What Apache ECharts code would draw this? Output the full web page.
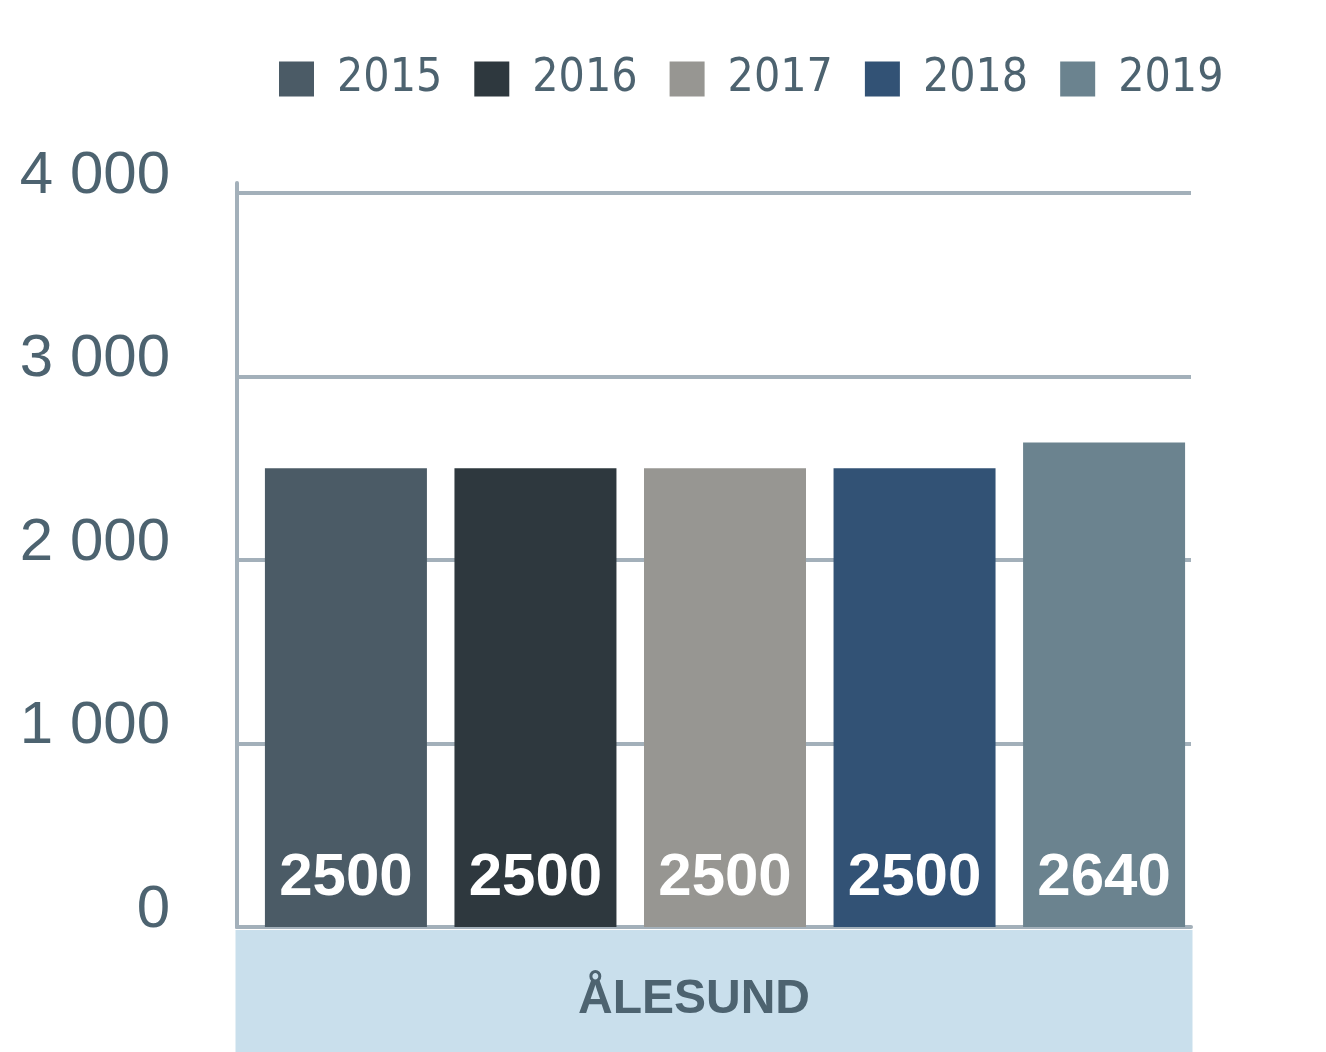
<!DOCTYPE html>
<html>
<head>
<meta charset="utf-8">
<script src="https://cdn.jsdelivr.net/npm/echarts@6/dist/echarts.min.js"></script>
<style>
html,body{margin:0;padding:0;background:#fff;}
#chart{width:1326px;height:1052px;}
</style>
</head>
<body>
<div id="chart"></div>
<script>
const categories = ['ÅLESUND'];
const years = ['2015', '2016', '2017', '2018', '2019'];
const values2015 = [2500];
const values2016 = [2500];
const values2017 = [2500];
const values2018 = [2500];
const values2019 = [2640];
const seriesValues = [values2015, values2016, values2017, values2018, values2019];
const colors = ['#4b5b66', '#2e383e', '#979692', '#325275', '#6b838f'];

const narrow = '"DejaVu Sans Condensed", "Liberation Sans Narrow", "Liberation Sans", sans-serif';
const sans = '"Liberation Sans", "Noto Sans", sans-serif';
const textColor = '#4d6370';
const gridColor = '#a3b0ba';

const chart = echarts.init(document.getElementById('chart'), null, {renderer: 'canvas'});
chart.setOption({
  animation: false,
  color: colors,
  legend: {
    data: years,
    left: 274,
    top: 51,
    width: 1040,
    itemWidth: 35,
    itemHeight: 35,
    itemGap: 32,
    icon: 'rect',
    textStyle: {
      fontFamily: narrow,
      fontSize: 46,
      color: textColor,
      padding: [0, 0, 0, 18],
      lineHeight: 40
    }
  },
  grid: [
    {left: 237, right: 135, top: 193, bottom: 125, containLabel: false},
    {left: 248, right: 124, top: 193, bottom: 125, containLabel: false},
    {left: 237, right: 135, top: 183, bottom: 125, containLabel: false}
  ],
  xAxis: [{
    type: 'category',
    gridIndex: 0,
    data: categories,
    axisLine: {show: true, lineStyle: {color: gridColor, width: 4}},
    axisTick: {show: false},
    axisLabel: {
      margin: 3,
      fontFamily: sans,
      fontWeight: 'bold',
      fontSize: 48,
      color: textColor,
      backgroundColor: '#c9dfec',
      width: 917,
      height: 104,
      lineHeight: 104,
      padding: [18, 40, 0, 0],
      align: 'center',
      overflow: 'none'
    }
  }, {
    type: 'category',
    gridIndex: 1,
    data: categories,
    show: false
  }, {
    type: 'category',
    gridIndex: 2,
    data: categories,
    show: false
  }],
  yAxis: [{
    type: 'value',
    gridIndex: 0,
    min: 0,
    max: 4000,
    interval: 1000,
    axisLine: {show: true, lineStyle: {color: gridColor, width: 4}},
    axisTick: {show: false},
    splitLine: {lineStyle: {color: gridColor, width: 4}},
    axisLabel: {
      margin: 67,
      fontFamily: sans,
      fontSize: 60,
      color: textColor,
      verticalAlign: 'bottom',
      lineHeight: 34,
      formatter: v => v >= 1000 ? (Math.floor(v / 1000) + ' ' + String(v % 1000).padStart(3, '0')) : String(v)
    }
  }, {
    type: 'value',
    gridIndex: 1,
    min: 0,
    max: 4000,
    interval: 1000,
    show: false,
    splitLine: {show: false}
  }, {
    type: 'value',
    gridIndex: 2,
    min: 0,
    max: 4000,
    interval: 1000,
    axisLine: {show: true, lineStyle: {color: gridColor, width: 4}},
    axisTick: {show: false},
    axisLabel: {show: false},
    splitLine: {show: false}
  }],
  series: years.map((y, i) => ({
    name: y,
    type: 'bar',
    xAxisIndex: 1,
    yAxisIndex: 1,
    data: seriesValues[i],
    barWidth: 162,
    barGap: '17%',
    itemStyle: {color: colors[i]},
    label: {
      show: true,
      position: 'insideBottom',
      distance: 19,
      fontFamily: sans,
      fontWeight: 'bold',
      fontSize: 60,
      color: '#ffffff'
    }
  }))
});
</script>
</body>
</html>
